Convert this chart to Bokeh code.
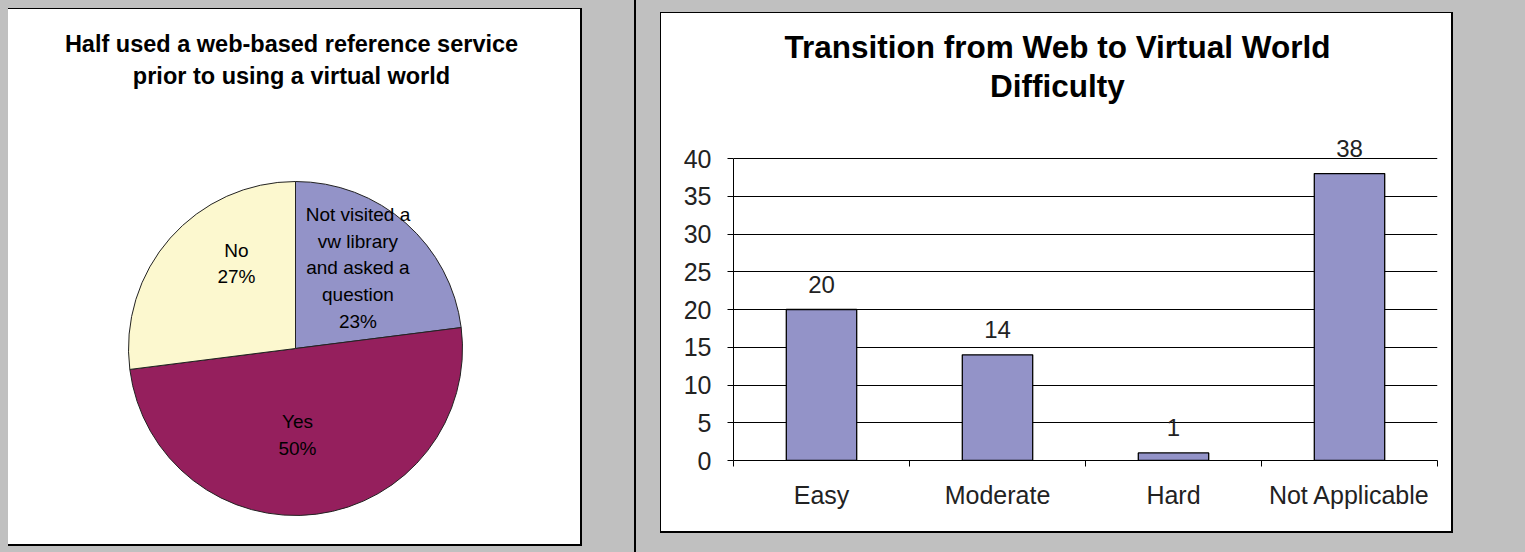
import math
from bokeh.plotting import figure
from bokeh.layouts import row, column
from bokeh.models import (Range1d, ColumnDataSource, FixedTicker, SingleIntervalTicker,
                          Label, LabelSet, Spacer)
from bokeh.core.properties import value
from bokeh.embed import file_html
from bokeh.resources import INLINE

# ---------------- data ----------------
pie_labels = ["Not visited a\nvw library\nand asked a\nquestion", "Yes", "No"]
pie_values = [23, 50, 27]
pie_colors = ["#9393C8", "#951F5D", "#FCF8CF"]
pie_title = ["Half used a web-based reference service", "prior to using a virtual world"]

bar_categories = ["Easy", "Moderate", "Hard", "Not Applicable"]
bar_values = [20, 14, 1, 38]
bar_title = ["Transition from Web to Virtual World", "Difficulty"]
y_ticks_step = 5
y_max = 40

FONT = "Liberation Sans"
GREY = "#C0C0C0"

# ---------------- pie panel ----------------
PW, PH = 572, 535
pie = figure(width=PW, height=PH, x_range=Range1d(0, PW), y_range=Range1d(0, PH),
             min_border=0, toolbar_location=None, output_backend="svg",
             x_axis_location=None, y_axis_location=None,
             background_fill_color="white", border_fill_color="white",
             outline_line_color=None)
pie.grid.visible = False

cx, cy, R = 287, 196, 167
total = float(sum(pie_values))
starts, ends, mids = [], [], []
a = math.pi / 2
for v in pie_values:
    sweep = 2 * math.pi * v / total
    starts.append(a - sweep)
    ends.append(a)
    mids.append(a - sweep / 2)
    a -= sweep

src = ColumnDataSource(dict(start=starts, end=ends, color=pie_colors))
pie.wedge(x=cx, y=cy, radius=R, start_angle="start", end_angle="end",
          fill_color="color", line_color="#222222", line_width=1, source=src)

# label placement (style): radius factor and angular nudge per slice
lab_r = [0.61, 0.52, 0.62]
lab_nudge = [3.6, -5.9, -13.8]
texts, lx, ly = [], [], []
for lbl, v, m, rr, dn in zip(pie_labels, pie_values, mids, lab_r, lab_nudge):
    pct = round(100 * v / total)
    texts.append(f"{lbl}\n{pct}%")
    ang = m + math.radians(dn)
    lx.append(cx + rr * R * math.cos(ang))
    ly.append(cy + rr * R * math.sin(ang))
pie.text(x=lx, y=ly, text=texts, text_align="center", text_baseline="middle",
         text_font=value(FONT), text_font_size="19px", text_color="black",
         text_line_height=1.27)

for i, t in enumerate(pie_title):
    pie.add_layout(Label(x=283, y=501 - 32 * i, x_units="screen", y_units="screen",
                         text=t, text_align="center", text_baseline="middle",
                         text_font=FONT, text_font_size="23.5px",
                         text_font_style="bold", text_color="black"))

pie_inner = column(pie, styles={"background-color": "white"})
pie_inner.margin = (1, 2, 2, 0)
left_wrap = column(pie_inner, styles={"background-color": "black"})
left_wrap.margin = (8, 0, 0, 8)

# ---------------- bar panel ----------------
BW, BH = 790, 518
MB_LEFT, MB_RIGHT, MB_BOTTOM = 72, 14, 71
AXIS_H = 302                      # pixel height of the 0..40 axis
FRAME_H = BH - MB_BOTTOM          # frame reaches the top of the panel
n = len(bar_categories)
bar = figure(width=BW, height=BH, x_range=Range1d(0, n),
             y_range=Range1d(0, y_max * FRAME_H / AXIS_H),
             toolbar_location=None, output_backend="svg",
             min_border_left=MB_LEFT, min_border_right=MB_RIGHT, min_border_top=0,
             min_border_bottom=MB_BOTTOM,
             background_fill_color="white", border_fill_color="white",
             outline_line_color=None)

centers = [i + 0.5 for i in range(n)]
bsrc = ColumnDataSource(dict(x=centers, top=bar_values,
                             lbl=[str(v) for v in bar_values]))
bar.vbar(x="x", top="top", bottom=0, width=0.4, fill_color="#9393C8",
         line_color="black", line_width=1.3, source=bsrc)

bar.add_layout(LabelSet(x="x", y="top", text="lbl", source=bsrc,
                        text_align="center", text_baseline="bottom", y_offset=17,
                        text_font=value(FONT), text_font_size="24px",
                        text_color="#222222"))

xa = bar.xaxis[0]
xa.ticker = FixedTicker(ticks=centers, minor_ticks=list(range(n + 1)))
xa.major_label_overrides = {c: name for c, name in zip(centers, bar_categories)}
xa.major_tick_line_color = None
xa.minor_tick_line_color = "black"
xa.minor_tick_out = 6
xa.minor_tick_in = 0
xa.axis_line_color = "black"
xa.major_label_text_font = FONT
xa.major_label_text_font_size = "25px"
xa.major_label_text_color = "#222222"
xa.major_label_standoff = 14

ya = bar.yaxis[0]
ya.ticker = SingleIntervalTicker(interval=y_ticks_step)
ya.bounds = (0, y_max)
ya.minor_tick_line_color = None
ya.major_tick_out = 6
ya.major_tick_in = 0
ya.axis_line_color = "black"
ya.major_tick_line_color = "black"
ya.major_label_text_font = FONT
ya.major_label_text_font_size = "25px"
ya.major_label_text_color = "#222222"
ya.major_label_standoff = 16

bar.xgrid.visible = False
bar.ygrid.grid_line_color = "black"
bar.ygrid.grid_line_width = 1
bar.ygrid.bounds = (0, y_max)

for i, t in enumerate(bar_title):
    bar.add_layout(Label(x=324, y=414 - 39 * i, x_units="screen", y_units="screen",
                         text=t, text_align="center", text_baseline="middle",
                         text_font=FONT, text_font_size="31.5px",
                         text_font_style="bold", text_color="black"))

bar_inner = column(bar, styles={"background-color": "white"})
bar_inner.margin = (1, 2, 2, 1)
right_wrap = column(bar_inner, styles={"background-color": "black"})
right_wrap.margin = (12, 0, 0, 24)

vline = Spacer(width=2, height=552, styles={"background-color": "black"})
vline.margin = (0, 0, 0, 52)

layout = row(left_wrap, vline, right_wrap, width=1525, height=552,
             styles={"background-color": GREY})

open("out.html", "w").write(file_html(layout, INLINE))
